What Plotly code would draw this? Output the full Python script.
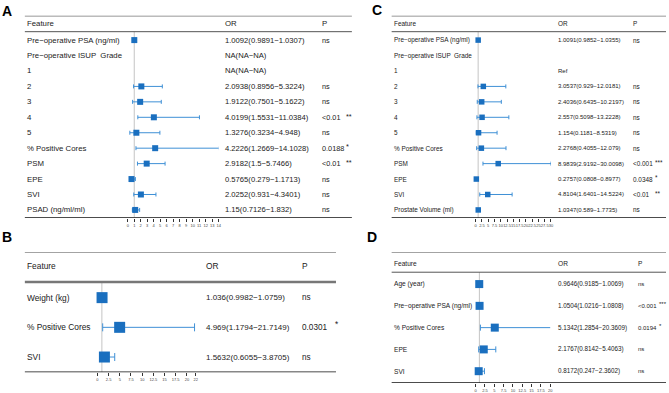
import plotly.graph_objects as go

W, H = 669, 393
FONT = "Liberation Sans, Arial, sans-serif"
BOX = "#1a6fbf"
CI = "#3f90d6"

# ---------------- data ----------------
A_features = ["Pre\u2212operative PSA (ng/ml)", "Pre\u2212operative ISUP  Grade", "1", "2", "3", "4", "5",
              "% Positive Cores", "PSM", "EPE", "SVI", "PSAD (ng/ml/ml)"]
A_or = [1.0092, None, None, 2.0938, 1.9122, 4.0199, 1.3276, 4.2226, 2.9182, 0.5765, 2.0252, 1.15]
A_lo = [0.9891, None, None, 0.8956, 0.7501, 1.5531, 0.3234, 1.2669, 1.5, 0.279, 0.931, 0.7126]
A_hi = [1.0307, None, None, 5.3224, 5.1622, 11.0384, 4.948, 14.1028, 5.7466, 1.1713, 4.3401, 1.832]
A_p = ["ns", "", "", "ns", "ns", "<0.01", "ns", "0.0188", "<0.01", "ns", "ns", "ns"]
A_star = ["", "", "", "", "", "**", "", "*", "**", "", "", ""]
A_empty = ["NA(NA\u2212NA)", "NA(NA\u2212NA)"]
A_ticks = [0, 1, 2, 3, 4, 5, 6, 7, 8, 9, 10, 11, 12, 13, 14]
A_ticktext = ["0", "1", "2", "3", "4", "5", "6", "7", "8", "9", "10", "11", "12", "13", "14"]

B_features = ["Weight (kg)", "% Positive Cores", "SVI"]
B_or = [1.036, 4.969, 1.5632]
B_lo = [0.9982, 1.1794, 0.6055]
B_hi = [1.0759, 21.7149, 3.8705]
B_p = ["ns", "0.0301", "ns"]
B_star = ["", "*", ""]
B_empty = []
B_ticks = [0, 2.5, 5, 7.5, 10, 12.5, 15, 17.5, 20, 22]
B_ticktext = ["0", "2.5", "5", "7.5", "10", "12.5", "15", "17.5", "20", "22"]

C_features = ["Pre\u2212operative PSA (ng/ml)", "Pre\u2212operative ISUP  Grade", "1", "2", "3", "4", "5",
              "% Positive Cores", "PSM", "EPE", "SVI", "Prostate Volume (ml)"]
C_or = [1.0091, None, None, 3.0537, 2.4036, 2.557, 1.154, 2.2768, 8.9839, 0.2757, 4.8104, 1.0347]
C_lo = [0.9852, None, None, 0.929, 0.6435, 0.5098, 0.1181, 0.4055, 2.9192, 0.0808, 1.6401, 0.589]
C_hi = [1.0355, None, None, 12.0181, 10.2197, 13.2228, 8.5319, 12.079, 30.0098, 0.8977, 14.5224, 1.7735]
C_p = ["ns", "", "", "ns", "ns", "ns", "ns", "ns", "<0.001", "0.0348", "<0.01", "ns"]
C_star = ["", "", "", "", "", "", "", "", "***", "*", "**", ""]
C_empty = ["", "Ref"]
C_ticks = [0, 2.5, 5, 7.5, 10, 12.5, 15, 17.5, 20, 22.5, 25, 27.5, 30]
C_ticktext = ["0", "2.5", "5", "7.5", "10", "12.5", "15", "17.5", "20", "22.5", "25", "27.5", "30"]

D_features = ["Age (year)", "Pre\u2212operative PSA (ng/ml)", "% Positive Cores", "EPE", "SVI"]
D_or = [0.9646, 1.0504, 5.1342, 2.1767, 0.8172]
D_lo = [0.9185, 1.0216, 1.2854, 0.8142, 0.247]
D_hi = [1.0069, 1.0808, 20.3609, 5.4063, 2.3602]
D_p = ["ns", "<0.001", "0.0194", "ns", "ns"]
D_star = ["", "***", "*", "", ""]
D_empty = []
D_ticks = [0, 2.5, 5, 7.5, 10, 12.5, 15, 17.5, 20]
D_ticktext = ["0", "2.5", "5", "7.5", "10", "12.5", "15", "17.5", "20"]

# ---------------- layout geometry (pixels) ----------------
panels = [
    dict(name="A", feat=A_features, orv=A_or, lo=A_lo, hi=A_hi, p=A_p, star=A_star, empty=A_empty,
         ticks=A_ticks, ticktext=A_ticktext, xr=[0, 14], xdom=(127.5, 219.0),
         left=24, right=353, top=16, header=24, hline=32, row0=40.5, sp=15.6, bottom=220,
         col_or=224, col_p=322, col_star=346, fs=7.8, fs_or=7.65, fs_p=7.3,
         box=6, cap=2, hlw=1.0, hlc="#555555", letter=(0, 11)),
    dict(name="B", feat=B_features, orv=B_or, lo=B_lo, hi=B_hi, p=B_p, star=B_star, empty=B_empty,
         ticks=B_ticks, ticktext=B_ticktext, xr=[0, 22], xdom=(97.0, 196.0),
         left=24, right=337, top=255, header=269, hline=285, row0=300.7, sp=30, bottom=376,
         col_or=205, col_p=302, col_star=335, fs=8.35, fs_or=8.0, fs_p=8.2,
         box=11, cap=4, hlw=2.5, hlc="#777777", letter=(0, 239)),
    dict(name="C", feat=C_features, orv=C_or, lo=C_lo, hi=C_hi, p=C_p, star=C_star, empty=C_empty,
         ticks=C_ticks, ticktext=C_ticktext, xr=[0, 30], xdom=(477.5, 553.3),
         left=393, right=669, top=16, header=24, hline=32, row0=40.5, sp=15.6, bottom=220,
         col_or=559, col_p=635, col_star=657, fs=6.4, fs_or=6.0, fs_p=6.4,
         box=5.5, cap=2, hlw=1.0, hlc="#555555", letter=(372, 10)),
    dict(name="D", feat=D_features, orv=D_or, lo=D_lo, hi=D_hi, p=D_p, star=D_star, empty=D_empty,
         ticks=D_ticks, ticktext=D_ticktext, xr=[0, 20], xdom=(477.5, 552.5),
         left=393, right=669, top=255, header=266, hline=275, row0=287, sp=22, bottom=387,
         col_or=559, col_p=640, col_star=661, fs=6.6, fs_or=6.3, fs_p=6.0,
         box=8, cap=3, hlw=1.0, hlc="#555555", letter=(367, 239)),
]

fig = go.Figure()
annotations = []
shapes = []

def ann(text, x_px, y, yref, size, color="#222222"):
    annotations.append(dict(
        text=text, x=x_px / W, xref="paper", y=y, yref=yref,
        xanchor="left", yanchor="middle", showarrow=False, borderpad=0,
        font=dict(family=FONT, size=size, color=color)))

def fmt(v):
    return repr(v)

for k, P in enumerate(panels, start=1):
    xa = "x" if k == 1 else "x%d" % k
    ya = "y" if k == 1 else "y%d" % k
    r_top = (P["top"] - P["row0"]) / P["sp"]
    r_bot = (P["bottom"] - P["row0"]) / P["sp"]
    r_head = (P["header"] - P["row0"]) / P["sp"]
    r_hline = (P["hline"] - P["row0"]) / P["sp"]
    fig.layout["xaxis" if k == 1 else "xaxis%d" % k] = dict(
        domain=[P["xdom"][0] / W, P["xdom"][1] / W], range=P["xr"], anchor=ya,
        showgrid=False, zeroline=False, showline=False,
        tickmode="array", tickvals=P["ticks"], ticktext=P["ticktext"], tickangle=0,
        ticks="outside", ticklen=3, tickwidth=0.8, tickcolor="#333333",
        tickfont=dict(family=FONT, size=4, color="#444444"))
    fig.layout["yaxis" if k == 1 else "yaxis%d" % k] = dict(
        domain=[1 - P["bottom"] / H, 1 - P["top"] / H], range=[r_bot, r_top], anchor=xa,
        visible=False, showgrid=False, zeroline=False)

    shapes.append(dict(type="line", xref=xa, yref=ya, x0=1, x1=1, y0=r_hline, y1=r_bot,
                       line=dict(color="#c4c4c4", width=1), layer="below"))
    shapes.append(dict(type="line", xref="paper", yref=ya, x0=P["left"] / W, x1=P["right"] / W,
                       y0=r_top, y1=r_top, line=dict(color="#333333", width=1)))
    shapes.append(dict(type="line", xref="paper", yref=ya, x0=P["left"] / W, x1=P["right"] / W,
                       y0=r_hline, y1=r_hline, line=dict(color=P["hlc"], width=P["hlw"])))
    shapes.append(dict(type="line", xref="paper", yref=ya, x0=P["left"] / W, x1=P["right"] / W,
                       y0=r_bot, y1=r_bot, line=dict(color="#111111", width=1.5)))

    ann("Feature", P["left"] + 1, r_head, ya, P["fs"])
    ann("OR", P["col_or"], r_head, ya, P["fs"])
    ann("P", P["col_p"], r_head, ya, P["fs"])

    xs, ys, ep, em = [], [], [], []
    empty_iter = iter(P["empty"])
    for i, f in enumerate(P["feat"]):
        ann(f, P["left"] + 1, i, ya, P["fs"])
        o = P["orv"][i]
        if o is None:
            lab = next(empty_iter)
        else:
            lab = "%s(%s\u2212%s)" % (fmt(o), fmt(P["lo"][i]), fmt(P["hi"][i]))
            xs.append(o)
            ys.append(i)
            ep.append(P["hi"][i] - o)
            em.append(o - P["lo"][i])
        if lab:
            ann(lab, P["col_or"], i, ya, P["fs_or"])
        if P["p"][i]:
            ann(P["p"][i], P["col_p"], i, ya, P["fs_p"])
        if P["star"][i]:
            ann(P["star"][i], P["col_star"], i - 0.08, ya, P["fs_p"])

    fig.add_trace(go.Scatter(
        x=xs, y=ys, xaxis=xa, yaxis=ya, mode="markers", cliponaxis=False,
        marker=dict(symbol="square", size=P["box"], color=BOX, line=dict(width=0)),
        error_x=dict(type="data", symmetric=False, array=ep, arrayminus=em,
                     color=CI, thickness=1, width=P["cap"]),
        showlegend=False, hoverinfo="skip"))

    annotations.append(dict(text="<b>%s</b>" % P["name"], x=P["letter"][0] / W, xref="paper",
                            y=1 - P["letter"][1] / H, yref="paper", xanchor="left", yanchor="middle",
                            showarrow=False, borderpad=0,
                            font=dict(family=FONT, size=14, color="#000000")))

fig.update_layout(width=W, height=H, margin=dict(l=0, r=0, t=0, b=0),
                  paper_bgcolor="white", plot_bgcolor="white",
                  annotations=annotations, shapes=shapes, showlegend=False)

fig.write_html("out.html", config={"displayModeBar": False},
               post_script="document.body.style.margin='0';document.body.style.overflow='hidden';")
